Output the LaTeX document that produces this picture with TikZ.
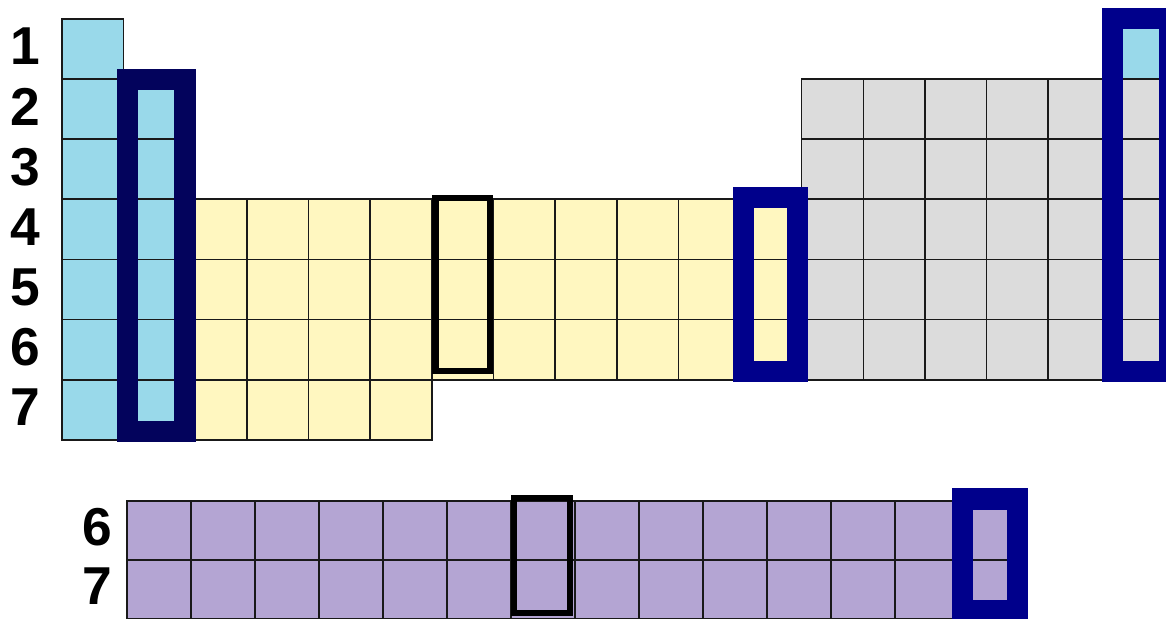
\documentclass[tikz,border=0pt]{standalone}
\usepackage{fontspec}
\setmainfont{Liberation Sans}
\definecolor{sblue}{RGB}{153,217,234}
\definecolor{dyellow}{RGB}{255,247,192}
\definecolor{pgray}{RGB}{220,220,220}
\definecolor{fpurple}{RGB}{180,165,211}
\definecolor{darknavy}{RGB}{3,3,92}
\definecolor{boxnavy}{RGB}{0,0,139}
\tikzset{
  cell/.style={draw=black!90, line width=1.2pt},
  navybox/.style={draw=boxnavy, line width=16pt},
  blackbox/.style={draw=black, line width=4.7pt},
  rowlabel/.style={font=\fontsize{40}{40}\selectfont\bfseries, inner sep=0pt}
}
\begin{document}
\begin{tikzpicture}[x=0.75pt,y=-0.75pt]
    \clip (0,0) rectangle (1166,618);
    \fill [white] (0,0) rectangle (1166,618);
    \foreach \r in {1,...,7}
        \draw [cell,fill=sblue] (62,{18.7+60.19*(\r-1)}) rectangle +(61.64,60.19);
    \foreach \r in {2,...,7}
        \draw [cell,fill=sblue] (123.64,{18.7+60.19*(\r-1)}) rectangle +(61.64,60.19);
    \foreach \c in {3,...,12}
        \foreach \r in {4,5,6}
            \draw [cell,fill=dyellow] ({62+61.64*(\c-1)},{18.7+60.19*(\r-1)}) rectangle +(61.64,60.19);
    \foreach \c in {3,...,6}
        \draw [cell,fill=dyellow] ({62+61.64*(\c-1)},{18.7+60.19*6}) rectangle +(61.64,60.19);
    \foreach \c in {13,...,18}
        \foreach \r in {2,...,6}
            \draw [cell,fill=pgray] ({62+61.64*(\c-1)},{18.7+60.19*(\r-1)}) rectangle +(61.64,60.19);
    \draw [cell,fill=sblue] ({62+61.64*17},18.7) rectangle +(61.64,60.19);
    \foreach \c in {1,...,14}
        \foreach \r in {1,2}
            \draw [cell,fill=fpurple] ({126.7+64*(\c-1)},{500.7+59*(\r-1)}) rectangle +(64,59);
    \draw [navybox,draw=darknavy] (127.5,79.5) rectangle (185,431.5);
    \draw [blackbox] (435.5,198) rectangle (490,371);
    \draw [navybox] (743.5,197.5) rectangle (797.5,371.5);
    \draw [navybox] (1112.8,18.3) rectangle (1170,371.5);
    \draw [blackbox] (514.2,498.3) rectangle (570.3,612.7);
    \draw [navybox] (962.2,499) rectangle (1017.5,611);
    \foreach \r in {1,...,7}
        \node [rowlabel] (period\r) at (25,{46.5+60.19*(\r-1)}) {\r};
    \node [rowlabel] (fperiod6) at (97,527) {6};
    \node [rowlabel] (fperiod7) at (97,586) {7};
\end{tikzpicture}
\end{document}
